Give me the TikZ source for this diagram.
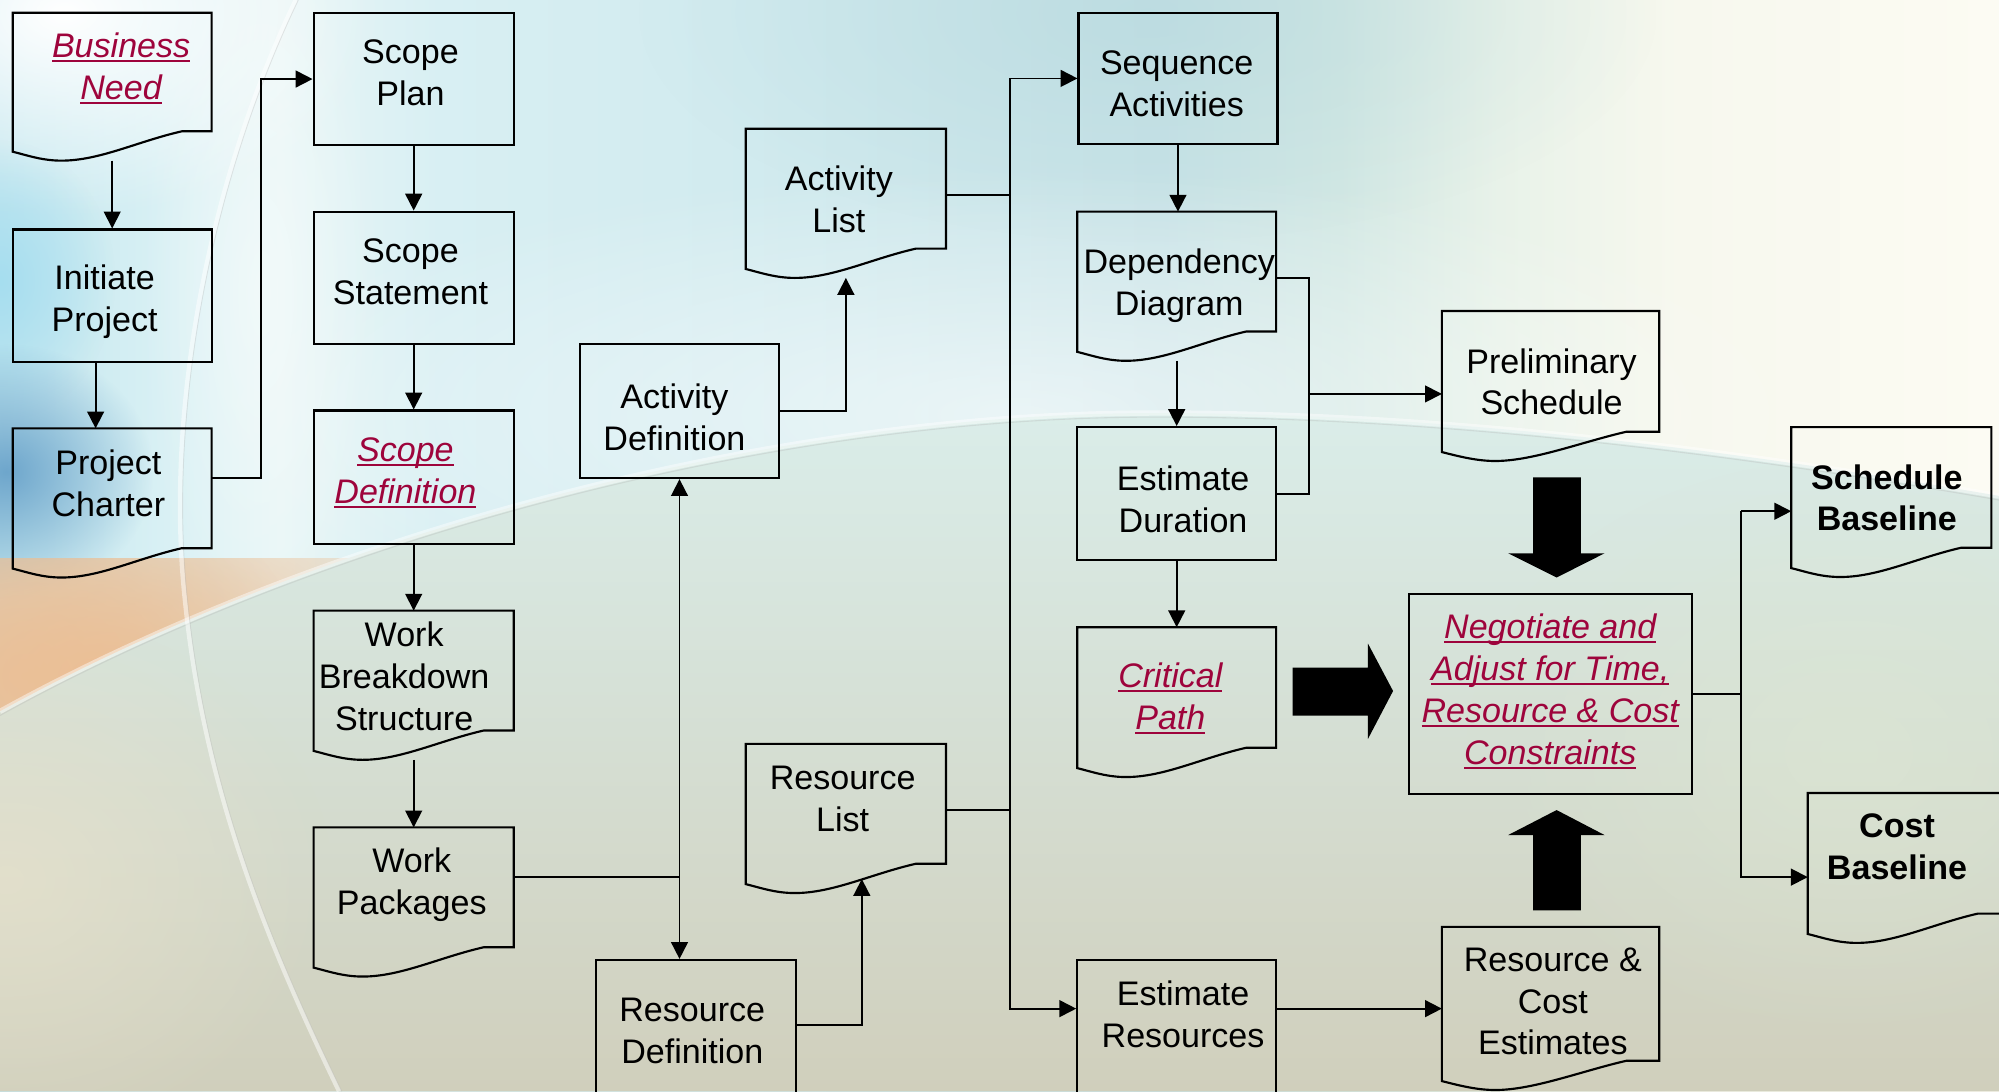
\documentclass[tikz,border=0pt]{standalone}
\usepackage{fontspec}
\setmainfont{Liberation Sans}
\usetikzlibrary{arrows.meta,calc,fit,fadings}

% palette
\definecolor{linkred}{RGB}{158,4,60}
\definecolor{skA}{HTML}{C2E6EE}
\definecolor{skB}{HTML}{D8F0F4}
\definecolor{skC}{HTML}{E8F6F6}
\definecolor{skD}{HTML}{D8EFF3}
\definecolor{skE}{HTML}{D0EAEE}
\definecolor{skF}{HTML}{C8E3E7}
\definecolor{skG}{HTML}{D2E8E4}
\definecolor{skH}{HTML}{E8F2E9}
\definecolor{skI}{HTML}{F7F8EE}
\definecolor{skJ}{HTML}{FCFBF3}
\definecolor{lowtop}{HTML}{DAEDE9}
\definecolor{lowbot}{HTML}{D0CFBC}
\definecolor{cream}{HTML}{E8E2CC}
\definecolor{palegreen}{HTML}{DDE7D3}
\definecolor{peach}{HTML}{ECBF95}
\definecolor{leftblue}{HTML}{6EA6CC}
\definecolor{leftcyan}{HTML}{A6DEF0}
\definecolor{topcyan}{HTML}{AFD4DA}

\pgfdeclarehorizontalshading{skyband}{100bp}{%
  color(0bp)=(skA); color(25bp)=(skA); color(29bp)=(skB); color(32bp)=(skC);
  color(36bp)=(skD); color(45bp)=(skE); color(54bp)=(skF); color(58.5bp)=(skG);
  color(62.5bp)=(skH); color(67bp)=(skI); color(75bp)=(skJ); color(100bp)=(skJ)}

\tikzfading[name=glow, inner color=transparent!0, outer color=transparent!100]

\newcommand\lblfont{\fontsize{19}{23.4}\selectfont}
% underlined hyperlink-style text
\newcommand\lnk[1]{\setbox0=\hbox{#1}\rlap{\rule[-2.4pt]{\wd0}{1.2pt}}\box0}

% document symbol: flat top, wavy bottom reaching the node's south edge
\newcommand\docframe[1]{%
  \coordinate (#1-L) at ($(#1.south west)+(0,-7)$);
  \coordinate (#1-T) at ($(#1.south west)!0.245!(#1.south east)$);
  \coordinate (#1-R) at ($(#1.south west)!0.85!(#1.south east)+(0,-23)$);
  \draw[frame] ($(#1.south east)+(0,-23)$) -- (#1.north east) -- (#1.north west) -- (#1-L)
    .. controls ($(#1-L)+(12,3)$) and ($(#1-T)+(-15,0)$) .. (#1-T)
    .. controls ($(#1-T)+(30,0)$) and ($(#1-R)+(-35,8)$) .. (#1-R) -- cycle;}

\tikzset{
  frame/.style={draw=black, line width=1.2pt},
  procbox/.style={frame, inner sep=0pt},
  docbox/.style={draw=none, inner sep=0pt, outer sep=0pt},
  lbl/.style={align=center, inner sep=0pt, font=\lblfont},
  hot/.style={lbl, text=linkred, font=\lblfont\itshape},
  strong/.style={lbl, font=\lblfont\bfseries},
  conn/.style={line width=1pt},
  arr/.style={conn, -{Triangle[length=0.33cm, width=0.33cm]}},
  arrs/.style={conn, {Triangle[length=0.33cm, width=0.33cm]}-{Triangle[length=0.33cm, width=0.33cm]}},
  bigarrow/.style={fill=black},
}

\begin{document}
\begin{tikzpicture}[x=0.025cm, y=-0.025cm]
\useasboundingbox (0,0) rectangle (1568,856);

% ---------- backdrop ----------
\begin{scope}
  \clip (0,0) rectangle (1568,856);
  \shade[shading=skyband] (0,0) rectangle (1568,856);
  \fill[topcyan, opacity=.45, path fading=glow] (500,-170) rectangle (1300,190);
  \fill[white, opacity=.6, path fading=glow] (150,130) rectangle (1450,520);
  \fill[white, path fading=glow] (-200,-150) rectangle (300,170);
  \fill[leftcyan, path fading=glow] (-90,110) rectangle (90,330);
  \fill[leftblue, path fading=glow] (-110,270) rectangle (120,470);
  \fill[white, opacity=.45, path fading=glow] (110,-60) rectangle (300,520);
  \begin{scope}
    \clip (0,438) rectangle (600,700);
    \fill[peach, path fading=glow] (-300,300) rectangle (460,760);
    \fill[peach, opacity=.8, path fading=glow] (-200,360) rectangle (240,700);
  \end{scope}
  % lower sweep below the large arc
  \shade[top color=lowtop, bottom color=lowbot]
    (0,558) .. controls (250,420) and (600,325) .. (900,324)
    .. controls (1150,323) and (1400,360) .. (1568,389) -- (1568,856) -- (0,856) -- cycle;
  \begin{scope}
    \clip (0,558) .. controls (250,420) and (600,325) .. (900,324)
      .. controls (1150,323) and (1400,360) .. (1568,389) -- (1568,856) -- (0,856) -- cycle;
    \fill[cream, opacity=.7, path fading=glow] (-250,480) rectangle (260,900);
    \fill[palegreen, opacity=.6, path fading=glow] (1150,360) rectangle (1750,820);
  \end{scope}
  % highlight strokes of the arcs
  \draw[white, opacity=.45, line width=3pt]
    (0,558) .. controls (250,420) and (600,325) .. (900,324)
    .. controls (1150,323) and (1400,360) .. (1568,389);
  \draw[black!30, opacity=.3, line width=.6pt, yshift=-0.08cm]
    (0,558) .. controls (250,420) and (600,325) .. (900,324)
    .. controls (1150,323) and (1400,360) .. (1568,389);
  \draw[white, opacity=.5, line width=2.5pt]
    (232,0) .. controls (160,150) and (130,330) .. (145,470)
    .. controls (160,620) and (210,740) .. (266,856);
  \draw[black!30, opacity=.3, line width=.5pt, xshift=0.05cm]
    (232,0) .. controls (160,150) and (130,330) .. (145,470)
    .. controls (160,620) and (210,740) .. (266,856);
\end{scope}

% ---------- process boxes ----------
\node[procbox, fit={(10,180) (166,284)}] (ip) {};
\node[procbox, fit={(246,10) (403,114)}] (sp) {};
\node[procbox, fit={(246,166) (403,270)}] (ss) {};
\node[procbox, fit={(246,322) (403,427)}] (sd) {};
\node[procbox, fit={(455,270) (611,375)}] (ad) {};
\node[procbox, fit={(846,10) (1002,113)}] (sa) {};
\node[procbox, fit={(845,335) (1001,439.5)}] (ed) {};
\node[procbox, fit={(467.5,753) (624.5,864)}] (rd) {};
\node[procbox, fit={(845,753) (1001,864)}] (er) {};
\node[procbox, fit={(1105,466) (1327.5,623)}] (ng) {};

% ---------- documents ----------
\node[docbox, fit={(10,10) (166,126)}] (bn) {};
\node[docbox, fit={(10,336) (166,453)}] (pc) {};
\node[docbox, fit={(246,479) (403,596)}] (wbs) {};
\node[docbox, fit={(246,649) (403,766)}] (wp) {};
\node[docbox, fit={(585,101) (742,218)}] (al) {};
\node[docbox, fit={(845,166) (1001,283)}] (dd) {};
\node[docbox, fit={(845,492) (1001,609.5)}] (cp) {};
\node[docbox, fit={(585,583.5) (742,700.5)}] (rl) {};
\node[docbox, fit={(1131,244) (1301.5,361.6)}] (ps) {};
\node[docbox, fit={(1405,335) (1562,452.6)}] (sb) {};
\node[docbox, fit={(1418,622) (1575,739.6)}] (cb) {};
\node[docbox, fit={(1131,727) (1301.5,855)}] (rce) {};
\foreach \d in {bn,pc,wbs,wp,al,dd,cp,rl,ps,sb,cb,rce} {\docframe{\d}}

% ---------- labels ----------
\node[hot] (bn-t) at (95,53.5) {\lnk{Business}\\\lnk{Need}};
\node[lbl] (ip-t) at (82,237) {Initiate\\Project};
\node[lbl] (pc-t) at (85,379) {Project\\Charter};
\node[lbl] (sp-t) at (322,57) {Scope\\Plan};
\node[lbl] (ss-t) at (322,213) {Scope\\Statement};
\node[hot] (sd-t) at (318,371) {\lnk{Scope}\\\lnk{Definition}};
\node[lbl] (wbs-t) at (317,530.5) {Work\\Breakdown\\Structure};
\node[lbl] (wp-t) at (323,694) {Work\\Packages};
\node[lbl] (ad-t) at (529,327) {Activity\\Definition};
\node[lbl] (al-t) at (658,156) {Activity\\List};
\node[lbl] (sa-t) at (923,65.5) {Sequence\\Activities};
\node[lbl] (dd-t) at (925,224) {Dependency\\Diagram};
\node[lbl] (ed-t) at (928,391.5) {Estimate\\Duration};
\node[hot] (cp-t) at (918,548) {\lnk{Critical}\\\lnk{Path}};
\node[lbl] (rl-t) at (661,626.5) {Resource\\List};
\node[lbl] (rd-t) at (543,808.5) {Resource\\Definition};
\node[lbl] (er-t) at (928,795.5) {Estimate\\Resources};
\node[lbl] (ps-t) at (1217,299.5) {Preliminary\\Schedule};
\node[hot] (ng-t) at (1216,542.5) {\lnk{Negotiate and}\\\lnk{Adjust for Time,}\\\lnk{Resource \& Cost}\\\lnk{Constraints}};
\node[strong] (sb-t) at (1480,390.5) {Schedule\\Baseline};
\node[strong] (cb-t) at (1488,664.5) {Cost\\Baseline};
\node[lbl] (rce-t) at (1218,785.5) {Resource \&\\Cost\\Estimates};

% ---------- connectors ----------
\coordinate (j1) at (205,0);
\coordinate (bus1) at (792.5,0);
\coordinate (bus2) at (1026.7,0);
\coordinate (bus3) at (1365.5,0);
\coordinate (pcout) at ($(pc.north east)+(0,39)$);
\coordinate (wpout) at ($(wp.north east)+(0,39)$);
\coordinate (alout) at ($(al.north east)+(0,52)$);
\coordinate (rlout) at ($(rl.north east)+(0,52)$);
\coordinate (rdout) at ($(rd.north east)+(0,52)$);
\coordinate (rlin) at ($(rl.south)+(12.5,-11)$);
\coordinate (erin) at ($(er.north west)+(0,39)$);
\coordinate (erout) at ($(er.north east)+(0,39)$);
\coordinate (ddout) at ($(dd.north east)+(0,52)$);
\coordinate (psin) at ($(ps.north west)+(0,65)$);
\coordinate (sbin) at ($(sb.north west)+(0,66)$);
\coordinate (cbin) at ($(cb.north west)+(0,66)$);

\draw[arr] (bn.south) -- (ip.north);
\draw[arr] ($(ip.south)+(-13,0)$) -- ($(pc.north)+(-13,0)$);
\draw[arr] (pcout) -- (pcout -| j1) |- (sp.west);
\draw[arr] (sp.south) -- (ss.north);
\draw[arr] (ss.south) -- (sd.north);
\draw[arr] (sd.south) -- (wbs.north);
\draw[arr] (wbs.south) -- (wp.north);
\draw[conn] (wpout) -- (wpout -| ad.south);
\draw[arrs] (ad.south) -- (ad.south |- rd.north);
\draw[arr] (ad.east) -| (al.south);
\draw[arr] (rdout) -| (rlin);
\draw[conn] (alout) -- (alout -| bus1);
\draw[conn] (rlout) -- (rlout -| bus1);
\draw[arr] (sa.west -| bus1) -- (sa.west);
\draw[arr] (sa.west -| bus1) -- (erin -| bus1) -- (erin);
\draw[arr] (sa.south) -- (sa.south |- dd.north);
\draw[arr] (dd.south) -- (ed.north);
\draw[arr] (ed.south) -- (cp.north);
\draw[conn] (ddout) -- (ddout -| bus2) -- (ed.east -| bus2) -- (ed.east);
\draw[arr] (psin -| bus2) -- (psin);
\draw[arr] (erout) -- (erout -| rce.west);
\draw[conn] (ng.east) -- (ng.east -| bus3);
\draw[arr] (sbin -| bus3) -- (sbin);
\draw[arr] (sbin -| bus3) -- (cbin -| bus3) -- (cbin);

% ---------- block arrows into the negotiation step ----------
\fill[bigarrow] (1202.6,374.5) -- (1240,374.5) -- (1240,434) -- (1258.6,434) -- (1221,453)
  -- (1183,434) -- (1202.6,434) -- cycle;
\fill[bigarrow] (1202.6,714) -- (1240,714) -- (1240,655) -- (1258.6,655) -- (1221,635.4)
  -- (1183,655) -- (1202.6,655) -- cycle;
\fill[bigarrow] (1014,523.6) -- (1073,523.6) -- (1073,504.8) -- (1092.7,542) -- (1073,579.6)
  -- (1073,561.4) -- (1014,561.4) -- cycle;
\end{tikzpicture}
\end{document}
